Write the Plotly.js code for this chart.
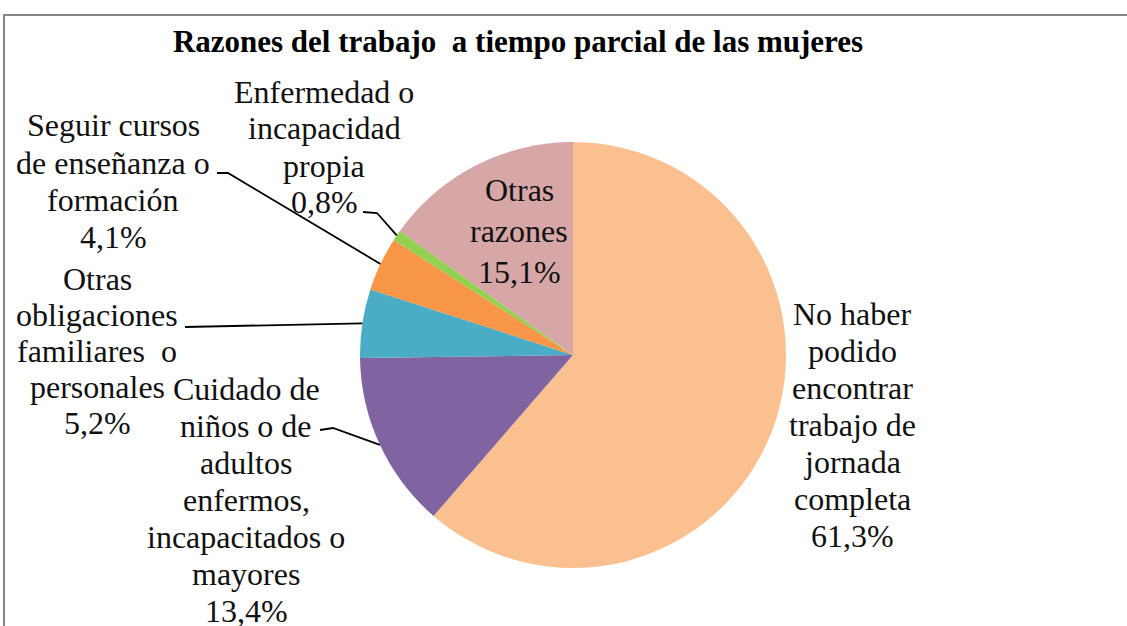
<!DOCTYPE html>
<html>
<head>
<script src="https://cdn.plot.ly/plotly-3.0.1.min.js"></script>
</head>
<body style="margin:0">
<div id="chart"></div>
<script>
// data
var razones = [
  'No haber podido encontrar trabajo de jornada completa',
  'Cuidado de ni\u00f1os o de adultos enfermos, incapacitados o mayores',
  'Otras obligaciones familiares o personales',
  'Seguir cursos de ense\u00f1anza o formaci\u00f3n',
  'Enfermedad o incapacidad propia',
  'Otras razones'
];
var porcentajes = [61.3, 13.4, 5.2, 4.1, 0.8, 15.1];
var etiquetas = [
  ['No haber', 'podido', 'encontrar', 'trabajo de', 'jornada', 'completa', '61,3%'],
  ['Cuidado de', 'ni\u00f1os o de', 'adultos', 'enfermos,', 'incapacitados o', 'mayores', '13,4%'],
  ['Otras', 'obligaciones', 'familiares  o', 'personales', '5,2%'],
  ['Seguir cursos', 'de ense\u00f1anza o', 'formaci\u00f3n', '4,1%'],
  ['Enfermedad o', 'incapacidad', 'propia', '0,8%'],
  ['Otras', 'razones', '15,1%']
];
var colores = ['#FAC090', '#8064A2', '#4BACC6', '#F79646', '#92D050', '#D7A6A6'];

var W = 1127, H = 626;
var cx = 573, cy = 355, R = 213;   // pie centre / radius in px
var serif = 'Times New Roman, Liberation Serif, serif';

function px(x) { return x / W; }
function py(y) { return 1 - y / H; }

// label centre (px), line spacing, and the elbow where the leader starts
var labelPos = [
  {x: 852, y: 425, dy: 37, lead: null},
  {x: 246, y: 500, dy: 37, lead: [[320, 430], [333, 428]]},
  {x: 97,  y: 351, dy: 36, lead: [[185, 327]]},
  {x: 113, y: 181, dy: 37, lead: [[217, 173], [228, 173]]},
  {x: 324, y: 147, dy: 37, lead: [[363, 212], [377, 213]]},
  {x: 519, y: 231, dy: 41, lead: null}
];

// mid angle of each slice, clockwise from top
var total = porcentajes.reduce(function(a, b) { return a + b; }, 0);
var acc = 0;
var midAng = porcentajes.map(function(v) {
  var a = (acc + v / 2) / total * 2 * Math.PI;
  acc += v;
  return a;
});

var annotations = [];
var shapes = [];
for (var i = 0; i < razones.length; i++) {
  var lp = labelPos[i], lines = etiquetas[i];
  for (var k = 0; k < lines.length; k++) {
    annotations.push({
      xref: 'paper', yref: 'paper',
      x: px(lp.x), y: py(lp.y + (k - (lines.length - 1) / 2) * lp.dy),
      xanchor: 'center', yanchor: 'middle',
      text: '<span style="font-family:Liberation Serif,Times New Roman,serif">' + lines[k] + '</span>',
      showarrow: false,
      font: {family: serif, size: 32, color: '#111'}
    });
  }
  if (lp.lead) {
    var pts = lp.lead.slice();
    pts.push([cx + R * Math.sin(midAng[i]), cy - R * Math.cos(midAng[i])]);
    var d = pts.map(function(p, j) {
      return (j === 0 ? 'M ' : 'L ') + px(p[0]) + ' ' + py(p[1]);
    }).join(' ');
    shapes.push({type: 'path', xref: 'paper', yref: 'paper', path: d,
      line: {color: '#000', width: 1.8}});
  }
}

// outer frame (left and top edges visible)
shapes.push({type: 'rect', xref: 'paper', yref: 'paper',
  x0: px(4), x1: 1.05, y0: -0.05, y1: py(15),
  line: {color: '#868686', width: 2}, layer: 'below'});

var trace = {
  type: 'pie',
  labels: razones,
  values: porcentajes,
  sort: false,
  direction: 'clockwise',
  rotation: 0,
  textinfo: 'none',
  hoverinfo: 'label+percent',
  marker: {colors: colores, line: {width: 0}},
  domain: {x: [px(cx - R), px(cx + R)], y: [py(cy + R), py(cy - R)]},
  showlegend: false
};

var layout = {
  width: W, height: H,
  margin: {l: 0, r: 0, t: 0, b: 0},
  title: {
    text: '<b>Razones del trabajo  a tiempo parcial de las mujeres</b>',
    x: px(518), y: py(41), xanchor: 'center', yanchor: 'middle',
    xref: 'paper', yref: 'paper',
    font: {family: serif, size: 31, color: '#000'}
  },
  annotations: annotations,
  shapes: shapes
};

Plotly.newPlot('chart', [trace], layout, {displayModeBar: false});
</script>
</body>
</html>
